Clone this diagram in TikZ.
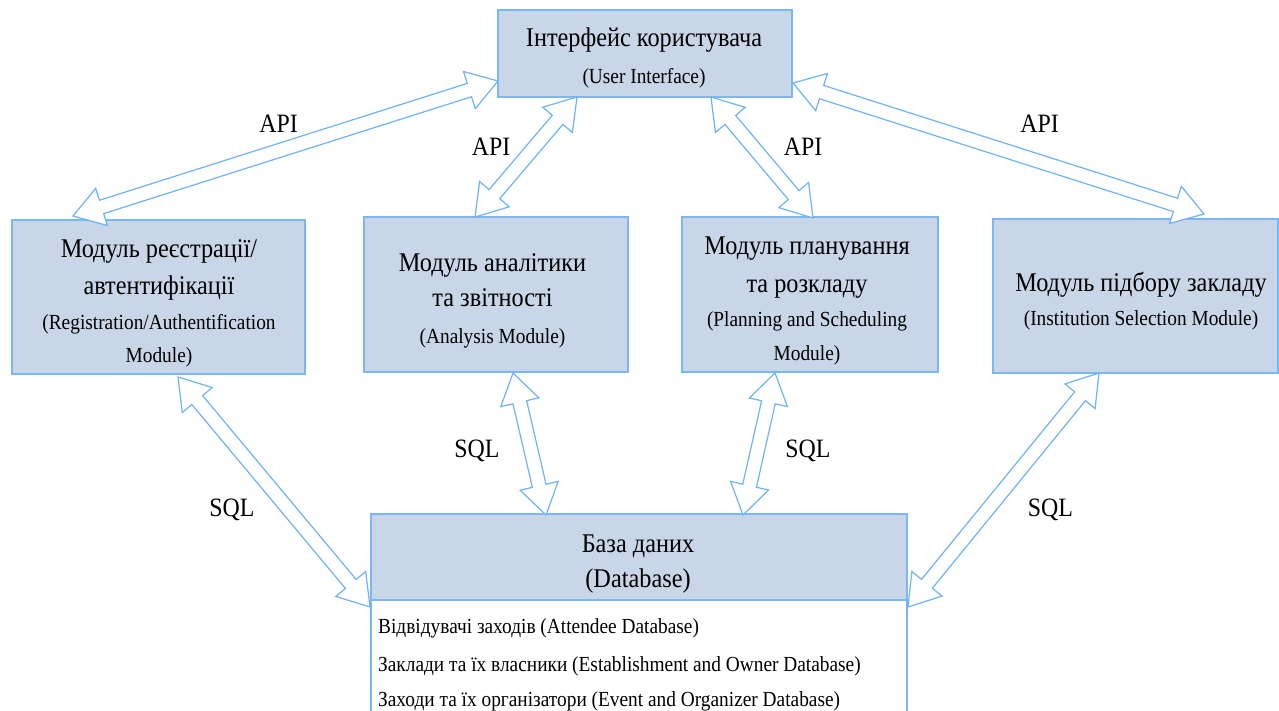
\documentclass[tikz,border=0pt]{standalone}
\usepackage{fontspec}
\setmainfont{Liberation Serif}[FakeStretch=0.9]
\usetikzlibrary{calc}
\definecolor{boxfill}{HTML}{C8D6E8}
\definecolor{boxline}{HTML}{7AB8F5}
\definecolor{arrline}{HTML}{6EB2F7}
\tikzset{
  box/.style={draw=boxline, line width=2pt, fill=boxfill, inner sep=0pt, outer sep=0pt},
  listbox/.style={draw=boxline, line width=2pt, fill=white, inner sep=0pt, outer sep=0pt},
  big/.style={font=\fontsize{27}{30}\selectfont, anchor=base, inner sep=0pt},
  small/.style={font=\fontsize{21.5}{24}\selectfont, anchor=base, inner sep=0pt},
  lbl/.style={font=\fontsize{26.5}{28}\selectfont, anchor=base, inner sep=0pt},
  item/.style={font=\fontsize{21.5}{24}\selectfont, anchor=base west, inner sep=0pt},
  blockarr/.style={draw=arrline, line width=1.2pt, fill=white, line join=miter},
}
\newcommand{\dblarrow}[2]{%
  \path ($(#1)!30pt!(#2)$) coordinate (hA) ($(#2)!30pt!(#1)$) coordinate (hB);
  \draw[blockarr] (#1) -- ($(hA)!19.5pt!90:(#2)$) -- ($(hA)!7pt!90:(#2)$)
    -- ($(hB)!7pt!-90:(#1)$) -- ($(hB)!19.5pt!-90:(#1)$) -- (#2)
    -- ($(hB)!19.5pt!90:(#1)$) -- ($(hB)!7pt!90:(#1)$)
    -- ($(hA)!7pt!-90:(#2)$) -- ($(hA)!19.5pt!-90:(#2)$) -- cycle;
}
\begin{document}
\begin{tikzpicture}[x=1pt,y=-1pt]
\useasboundingbox (0,0) rectangle (1279,710);
\clip (0,0) rectangle (1279,710);
% boxes
\node[box, minimum width=294pt, minimum height=87pt] (ui) at (645,53.5) {};
\node[box, minimum width=293pt, minimum height=154pt] (reg) at (158.5,297) {};
\node[box, minimum width=264pt, minimum height=155pt] (ana) at (496,294.5) {};
\node[box, minimum width=256pt, minimum height=155pt] (pla) at (810,294.5) {};
\node[box, minimum width=285pt, minimum height=154pt] (ins) at (1135.5,296) {};
\node[listbox, minimum width=536pt, minimum height=130pt] (dbl) at (639,665) {};
\node[box, minimum width=536pt, minimum height=86pt] (db) at (639,557) {};
% texts
\node[big] (uit1) at (644,46.5) {Інтерфейс користувача};
\node[small] (uit2) at (644,83) {(User Interface)};
\node[big] (regt1) at (159,257.5) {Модуль реєстрації/};
\node[big] (regt2) at (159,294) {автентифікації};
\node[small] (regt3) at (159,329.5) {(Registration/Authentification};
\node[small] (regt4) at (159,362.5) {Module)};
\node[big] (anat1) at (492.5,271.5) {Модуль аналітики};
\node[big] (anat2) at (492.5,306.5) {та звітності};
\node[small] (anat3) at (492.5,343.5) {(Analysis Module)};
\node[big] (plat1) at (807,254) {Модуль планування};
\node[big] (plat2) at (807,292) {та розкладу};
\node[small] (plat3) at (807,326.5) {(Planning and Scheduling};
\node[small] (plat4) at (807,360) {Module)};
\node[big] (inst1) at (1141,291.5) {Модуль підбору закладу};
\node[small] (inst2) at (1141,325) {(Institution Selection Module)};
\node[big] (dbt1) at (638,552.5) {База даних};
\node[big] (dbt2) at (638,587) {(Database)};
\node[item] (dbi1) at (378,633) {Відвідувачі заходів (Attendee Database)};
\node[item] (dbi2) at (378,671.5) {Заклади та їх власники (Establishment and Owner Database)};
\node[item] (dbi3) at (378,706) {Заходи та їх організатори (Event and Organizer Database)};
% arrow ends
\coordinate (a1u) at (498,81);   \coordinate (a1m) at (73,216);
\coordinate (a2u) at (577,97);   \coordinate (a2m) at (475,217);
\coordinate (a3u) at (711,97);   \coordinate (a3m) at (813,218);
\coordinate (a4u) at (793,83);   \coordinate (a4m) at (1204,214);
\coordinate (a5m) at (178,377);  \coordinate (a5d) at (370,607);
\coordinate (a6m) at (513,373);  \coordinate (a6d) at (546,515);
\coordinate (a7m) at (775,373);  \coordinate (a7d) at (743,515);
\coordinate (a8m) at (1099,373); \coordinate (a8d) at (908,607);
\dblarrow{a1u}{a1m}
\dblarrow{a2u}{a2m}
\dblarrow{a3u}{a3m}
\dblarrow{a4u}{a4m}
\dblarrow{a5m}{a5d}
\dblarrow{a6m}{a6d}
\dblarrow{a7m}{a7d}
\dblarrow{a8m}{a8d}
% labels
\node[lbl] (l1) at (278.5,132) {API};
\node[lbl] (l2) at (491,155) {API};
\node[lbl] (l3) at (803,155) {API};
\node[lbl] (l4) at (1039.5,132) {API};
\node[lbl] (l5) at (232,516) {SQL};
\node[lbl] (l6) at (477,457) {SQL};
\node[lbl] (l7) at (808,457) {SQL};
\node[lbl] (l8) at (1050.5,516) {SQL};
\end{tikzpicture}
\end{document}
